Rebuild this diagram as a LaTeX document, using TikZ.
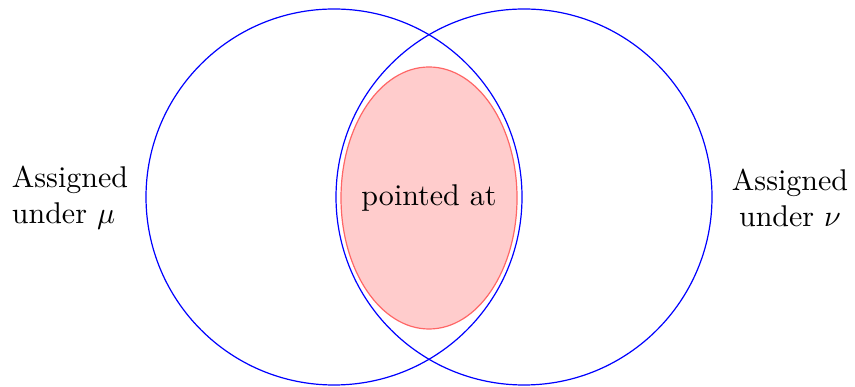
\documentclass[tikz,border=0pt]{standalone}
\begin{document}
\begin{tikzpicture}[x=0.3333pt,y=-0.3333pt,
  setcircle/.style={draw=blue,line width=0.4pt},
  pointedset/.style={draw=red!60,fill=red!20,line width=0.4pt},
  lbl/.style={inner sep=0pt,font=\normalsize}]
\useasboundingbox (0,0) rectangle (855,387);
\draw[pointedset] (429,198) ellipse [x radius=88, y radius=131];
\draw[setcircle] (334,197) circle [radius=188];
\draw[setcircle] (524,197) circle [radius=188];
\node[lbl] (pa) at (429,198) {pointed at};
\node[lbl,align=left] (mu) at (70,198) {Assigned\\under $\mu$};
\node[lbl,align=center] (nu) at (790,198) {Assigned\\under $\nu$};
\end{tikzpicture}
\end{document}
